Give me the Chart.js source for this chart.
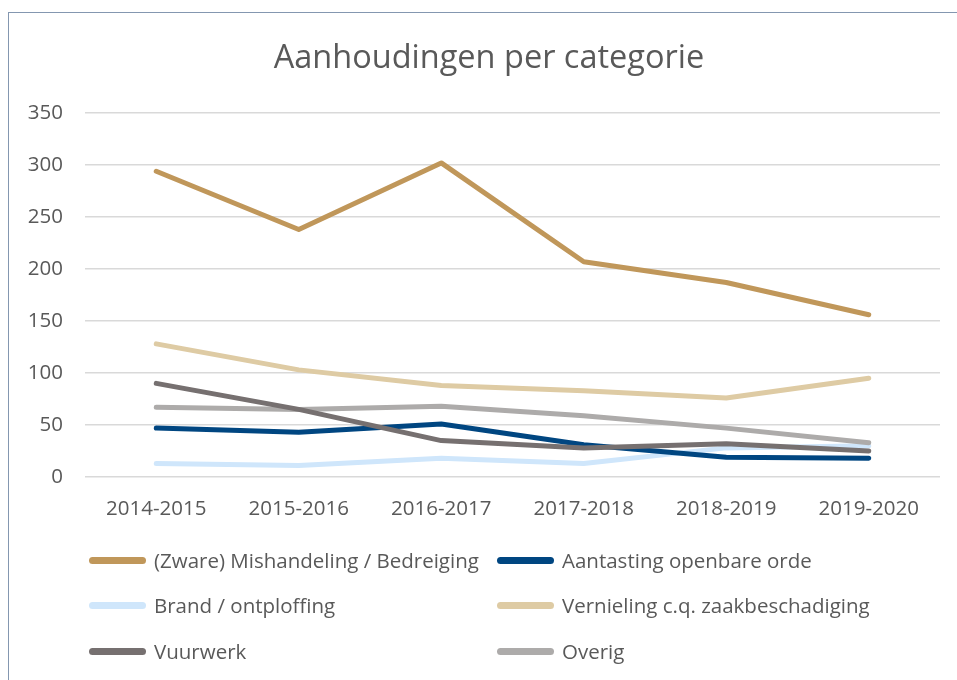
<!DOCTYPE html>
<html>
<head>
<meta charset="utf-8">
<script src="https://cdn.jsdelivr.net/npm/chart.js@4/dist/chart.umd.min.js"></script>
<style>
  html, body { margin: 0; padding: 0; background: #fff; overflow: hidden; width: 957px; height: 680px; }
  #frame { position: absolute; left: 8px; top: 12px; width: 980px; height: 700px;
           border-left: 1.5px solid #8497B0; border-top: 1.5px solid #8497B0; box-sizing: border-box; }
  #wrap { position: absolute; left: 8px; top: 12px; width: 962px; height: 520px; }
  #legend { position: absolute; left: 0; top: 0; width: 957px; height: 680px; pointer-events: none;
            font-family: "Open Sans", sans-serif; font-size: 20.5px; color: #595959; }
  .item { position: absolute; display: flex; align-items: center; white-space: nowrap; }
  .swatch { width: 57px; height: 7px; border-radius: 4px; margin-right: 8px; }
</style>
</head>
<body>
<div id="frame"></div>
<div id="wrap"><canvas id="c"></canvas></div>
<div id="legend"></div>
<script>
const categories = ["2014-2015", "2015-2016", "2016-2017", "2017-2018", "2018-2019", "2019-2020"];
const seriesNames = [
  "(Zware) Mishandeling / Bedreiging",
  "Aantasting openbare orde",
  "Brand / ontploffing",
  "Vernieling c.q. zaakbeschadiging",
  "Vuurwerk",
  "Overig"
];
const mishandeling = [294, 238, 302, 207, 187, 156];
const aantasting   = [47, 43, 51, 31, 19, 18];
const brand        = [13, 11, 18, 13, 28, 30];
const vernieling   = [128, 103, 88, 83, 76, 95];
const vuurwerk     = [90, 65, 35, 28, 32, 25];
const overig       = [67, 65, 68, 59, 47, 33];
const yTicks = [0, 50, 100, 150, 200, 250, 300, 350];

const colors = ["#C0975A", "#004681", "#CFE6FB", "#DECBA4", "#767070", "#ADABAA"];
const values = [mishandeling, aantasting, brand, vernieling, vuurwerk, overig];
// draw order: match reference layering
const drawOrder = [0, 3, 2, 5, 1, 4];

const datasets = seriesNames.map((name, i) => ({
  label: name,
  data: values[i],
  borderColor: colors[i],
  backgroundColor: colors[i],
  borderWidth: 5,
  pointRadius: 0,
  pointHoverRadius: 0,
  tension: 0,
  borderCapStyle: 'round',
  borderJoinStyle: 'round',
  order: drawOrder.length - drawOrder.indexOf(i)
}));

const font = { family: "'Open Sans', sans-serif", size: 20.5 };

const chart = new Chart(document.getElementById('c'), {
  type: 'line',
  data: { labels: categories, datasets },
  options: {
    responsive: true,
    maintainAspectRatio: false,
    animation: false,
    layout: { padding: { left: 7, right: 7, top: 20, bottom: 5 } },
    plugins: {
      legend: { display: false },
      tooltip: { enabled: false },
      title: {
        display: true,
        text: 'Aanhoudingen per categorie',
        color: '#595959',
        font: { family: "'Open Sans', sans-serif", size: 32.5, weight: 'normal' },
        padding: { top: 7, bottom: 35 }
      }
    },
    scales: {
      x: {
        offset: true,
        grid: { display: false, drawTicks: false },
        border: { display: false },
        ticks: { color: '#595959', font, padding: 20, maxRotation: 0 },
        afterFit: s => { s.height = 50; }
      },
      y: {
        min: 0, max: 350,
        afterBuildTicks: s => { s.ticks = yTicks.map(v => ({ value: v })); },
        grid: { color: '#D9D9D9', lineWidth: 1.5, drawTicks: false },
        border: { display: false },
        ticks: { color: '#595959', font, padding: 22 },
        afterFit: s => { s.width = 70; }
      },
      yR: {
        position: 'right',
        min: 0, max: 350,
        grid: { display: false, drawTicks: false },
        border: { display: false },
        ticks: { display: false },
        afterFit: s => { s.width = 23; }
      }
    }
  }
});

// HTML legend built from the chart's datasets (two columns, like the reference)
const legendEl = document.getElementById('legend');
const colX = [89, 497];
const rowY = [560, 605, 651];
chart.data.datasets.forEach((ds, i) => {
  const it = document.createElement('div');
  it.className = 'item';
  it.style.left = colX[i % 2] + 'px';
  it.style.top = (rowY[Math.floor(i / 2)] - 14) + 'px';
  it.style.height = '28px';
  const sw = document.createElement('span');
  sw.className = 'swatch';
  sw.style.background = ds.borderColor;
  const tx = document.createElement('span');
  tx.textContent = ds.label;
  it.appendChild(sw); it.appendChild(tx);
  legendEl.appendChild(it);
});
</script>
</body>
</html>
